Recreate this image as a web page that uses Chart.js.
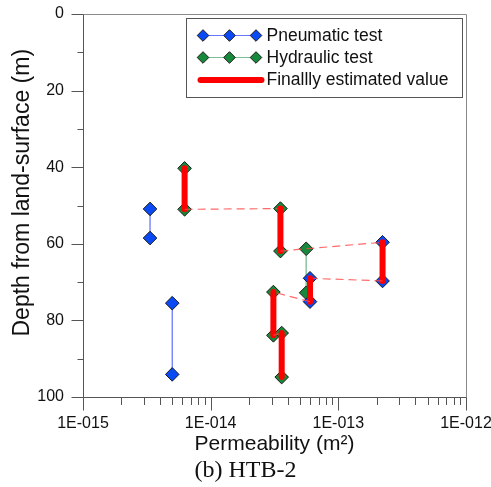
<!DOCTYPE html>
<html>
<head>
<meta charset="utf-8">
<script src="https://cdn.jsdelivr.net/npm/chart.js@4.4.1/dist/chart.umd.min.js"></script>
<style>
html,body{margin:0;padding:0;background:#ffffff;}
canvas{display:block;}
</style>
</head>
<body>
<canvas id="c" width="491" height="487"></canvas>
<script>
// ---- Data ----
// Pneumatic test: consecutive pairs (top, bottom of each tested interval)
const pneumaticPerm  = [3.35e-15, 3.35e-15, 5.0e-15, 5.0e-15, 6.0e-14, 6.0e-14, 2.22e-13, 2.22e-13];
const pneumaticDepth = [50.9, 58.5, 75.5, 94.1, 69.0, 75.1, 59.6, 69.7];
// Hydraulic test: consecutive pairs
const hydraulicPerm  = [6.25e-15, 6.25e-15, 3.52e-14, 3.52e-14, 5.6e-14, 5.6e-14, 3.1e-14, 3.1e-14, 3.6e-14, 3.6e-14];
const hydraulicDepth = [40.3, 51.0, 50.8, 61.9, 61.3, 72.8, 72.6, 83.9, 83.3, 94.8];
// Finally estimated value profile (vertical segments = estimates, others = dashed links)
const finalPerm  = [6.25e-15, 6.25e-15, 3.52e-14, 3.52e-14, 5.6e-14, 2.22e-13, 2.22e-13, 6.0e-14, 6.0e-14, 3.1e-14, 3.1e-14, 3.6e-14, 3.6e-14];
const finalDepth = [40.3, 51.0, 50.8, 61.9, 61.3, 59.6, 69.7, 69.0, 75.1, 72.6, 83.9, 83.3, 94.8];
// Axis ticks
const depthTicks = [0, 20, 40, 60, 80, 100];
const permDecades = [1e-15, 1e-14, 1e-13, 1e-12];
const seriesNames = ['Pneumatic test', 'Hydraulic test', 'Finallly estimated value'];

function pairs(xs, ys) {
  const out = [];
  for (let i = 0; i < xs.length; i += 2) {
    out.push({x: xs[i], y: ys[i]});
    out.push({x: xs[i + 1], y: ys[i + 1]});
    if (i + 2 < xs.length) out.push({x: null, y: null});
  }
  return out;
}
function pts(xs, ys) { return xs.map((x, i) => ({x: x, y: ys[i]})); }

const BLUE = '#0a4af5', GREEN = '#168a3a', RED = '#ff0000';
const SANS = "'Liberation Sans', Arial, sans-serif";
const isVert = ctx => ctx.p0.parsed.x === ctx.p1.parsed.x;

const framePlugin = {
  id: 'frame',
  beforeDatasetsDraw(chart) {
    const {ctx, chartArea: a, scales: {x, y}} = chart;
    const L = Math.round(a.left) + 0.5, R = Math.round(a.right) + 0.5;
    const T = Math.round(a.top) + 0.5, B = Math.round(a.bottom) + 0.5;
    ctx.save();
    ctx.lineWidth = 1;
    ctx.strokeStyle = '#8a8a8a';
    ctx.beginPath();
    ctx.moveTo(L, T); ctx.lineTo(R, T); ctx.lineTo(R, B);
    ctx.stroke();
    ctx.strokeStyle = '#555555';
    ctx.beginPath();
    ctx.moveTo(L, T); ctx.lineTo(L, B); ctx.lineTo(R, B);
    // y ticks
    for (let v = y.min; v <= y.max; v += 10) {
      const py = Math.round(y.getPixelForValue(v)) + 0.5;
      const len = depthTicks.includes(v) ? 12 : 6;
      ctx.moveTo(L - len, py); ctx.lineTo(L, py);
    }
    // x ticks (log)
    permDecades.forEach((d, k) => {
      for (let m = 1; m <= 9; m++) {
        if (k === permDecades.length - 1 && m > 1) break;
        const px = Math.round(x.getPixelForValue(m * d)) + 0.5;
        const len = m === 1 ? 13 : 7.5;
        ctx.moveTo(px, B); ctx.lineTo(px, B + len);
      }
    });
    ctx.stroke();
    ctx.restore();
  }
};

function diamond(ctx, cx, cy, r, fill) {
  ctx.beginPath();
  ctx.moveTo(cx, cy - r); ctx.lineTo(cx + r, cy); ctx.lineTo(cx, cy + r); ctx.lineTo(cx - r, cy);
  ctx.closePath();
  ctx.fillStyle = fill; ctx.fill();
  ctx.lineWidth = 1; ctx.strokeStyle = '#1a1a1a'; ctx.stroke();
}

const legendPlugin = {
  id: 'boxLegend',
  afterDatasetsDraw(chart) {
    const {ctx, chartArea: a} = chart;
    const left = Math.round(a.left + 103) + 0.5, top = Math.round(a.top + 4) + 0.5;
    const right = Math.round(a.right - 4) + 0.5, bottom = top + 79;
    ctx.save();
    ctx.fillStyle = '#ffffff';
    ctx.fillRect(left, top, right - left, bottom - top);
    ctx.strokeStyle = '#555555'; ctx.lineWidth = 1;
    ctx.strokeRect(left, top, right - left, bottom - top);
    const rows = [top + 17, top + 39, top + 61.5];
    const x0 = left + 11, x1 = left + 75;
    const dx = [left + 16.5, left + 43, left + 69.5];
    // pneumatic
    ctx.strokeStyle = 'rgba(40,60,255,0.7)'; ctx.lineWidth = 1.2;
    ctx.beginPath(); ctx.moveTo(dx[0], rows[0]); ctx.lineTo(dx[2], rows[0]); ctx.stroke();
    dx.forEach(px => diamond(ctx, px, rows[0], 5.8, BLUE));
    // hydraulic
    ctx.strokeStyle = 'rgba(40,150,80,0.6)'; ctx.lineWidth = 1.2;
    ctx.beginPath(); ctx.moveTo(dx[0], rows[1]); ctx.lineTo(dx[2], rows[1]); ctx.stroke();
    dx.forEach(px => diamond(ctx, px, rows[1], 5.8, GREEN));
    // final
    ctx.strokeStyle = RED; ctx.lineWidth = 6; ctx.lineCap = 'round';
    ctx.beginPath(); ctx.moveTo(x0 + 3, rows[2]); ctx.lineTo(x1, rows[2]); ctx.stroke();
    // texts
    ctx.fillStyle = '#111111';
    ctx.font = '17.5px ' + SANS;
    ctx.textBaseline = 'middle'; ctx.textAlign = 'left';
    seriesNames.forEach((s, i) => ctx.fillText(s, left + 80, rows[i] + 0.5));
    ctx.restore();
  }
};

new Chart(document.getElementById('c'), {
  type: 'scatter',
  data: {
    datasets: [
      {
        label: seriesNames[2],
        data: pts(finalPerm, finalDepth),
        showLine: true,
        borderColor: RED,
        borderWidth: 6,
        pointRadius: 0,
        pointHoverRadius: 0,
        segment: {
          borderWidth: ctx => isVert(ctx) ? 6 : 1.2,
          borderColor: ctx => isVert(ctx) ? RED : 'rgba(255,70,70,0.8)',
          borderDash: ctx => isVert(ctx) ? [] : [8, 5],
          borderCapStyle: ctx => isVert(ctx) ? 'round' : 'butt'
        }
      },
      {
        label: seriesNames[0],
        data: pairs(pneumaticPerm, pneumaticDepth),
        showLine: true,
        spanGaps: false,
        borderColor: 'rgba(40,60,255,0.75)',
        borderWidth: 1.2,
        pointStyle: 'rectRot',
        pointRadius: 6.8,
        pointBackgroundColor: BLUE,
        pointBorderColor: '#1a1a1a',
        pointBorderWidth: 1
      },
      {
        label: seriesNames[1],
        data: pairs(hydraulicPerm, hydraulicDepth),
        showLine: true,
        spanGaps: false,
        borderColor: 'rgba(40,150,80,0.55)',
        borderWidth: 1.5,
        pointStyle: 'rectRot',
        pointRadius: 6.8,
        pointBackgroundColor: GREEN,
        pointBorderColor: '#1a1a1a',
        pointBorderWidth: 1
      }
    ]
  },
  options: {
    responsive: false,
    animation: false,
    events: [],
    layout: {padding: 0},
    plugins: {
      legend: {display: false},
      tooltip: {enabled: false},
      title: {
        display: true,
        position: 'bottom',
        text: '(b) HTB-2',
        color: '#111111',
        font: {family: "'Liberation Serif', 'Times New Roman', serif", size: 24, weight: 'normal'},
        padding: {top: 0, bottom: 2}
      }
    },
    scales: {
      x: {
        type: 'logarithmic',
        position: 'bottom',
        min: permDecades[0],
        max: permDecades[permDecades.length - 1],
        grid: {display: false, drawTicks: false},
        border: {display: false},
        ticks: {
          autoSkip: false, maxRotation: 0, minRotation: 0, padding: 17,
          color: '#111111', font: {family: SANS, size: 16},
          callback: v => {
            const e = Math.log10(v), r = Math.round(e);
            if (Math.abs(e - r) > 1e-6) return '';
            return '1E-' + String(-r).padStart(3, '0');
          }
        },
        title: {
          display: true,
          text: 'Permeability (m²)',
          color: '#111111',
          font: {family: SANS, size: 21},
          padding: {top: 0, bottom: -1}
        },
        afterFit: s => { s.height = 59.2; s.paddingLeft = 0; s.paddingRight = 25; }
      },
      y: {
        type: 'linear',
        reverse: true,
        min: depthTicks[0],
        max: depthTicks[depthTicks.length - 1],
        grid: {display: false, drawTicks: false},
        border: {display: false},
        ticks: {
          stepSize: 10, autoSkip: false, padding: 19,
          color: '#111111', font: {family: SANS, size: 16},
          callback: v => depthTicks.includes(v) ? String(v) : ''
        },
        title: {
          display: true,
          text: '    Depth from land-surface (m)',
          color: '#111111',
          font: {family: SANS, size: 23},
          padding: {top: 9, bottom: 9}
        },
        afterFit: s => { s.width = 83; s.paddingTop = 14; s.paddingBottom = 0; }
      }
    }
  },
  plugins: [framePlugin, legendPlugin]
});
</script>
</body>
</html>
